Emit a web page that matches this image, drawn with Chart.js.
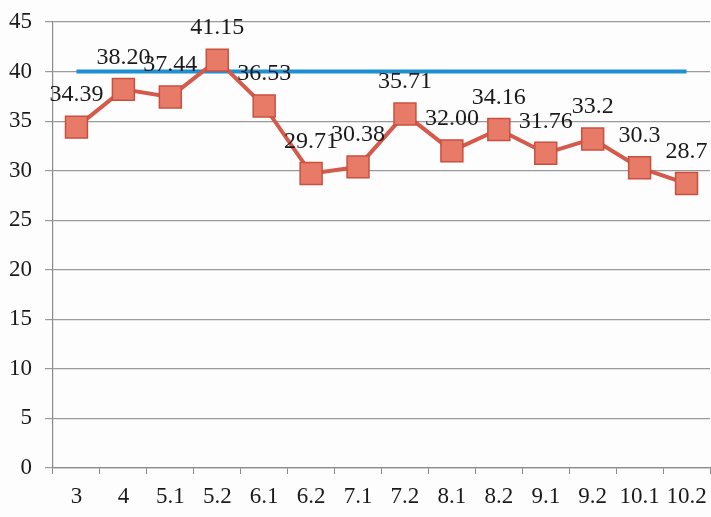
<!DOCTYPE html>
<html>
<head>
<meta charset="utf-8">
<script src="https://cdn.jsdelivr.net/npm/chart.js@4/dist/chart.umd.min.js"></script>
<style>
  html, body { margin: 0; padding: 0; background: #fdfdfd; }
  #wrap { width: 711px; height: 517px; }
</style>
</head>
<body>
<div id="wrap"><canvas id="chart" width="711" height="517"></canvas></div>
<script>
const categories = ['3', '4', '5.1', '5.2', '6.1', '6.2', '7.1', '7.2', '8.1', '8.2', '9.1', '9.2', '10.1', '10.2']
const scores = [34.39, 38.20, 37.44, 41.15, 36.53, 29.71, 30.38, 35.71, 32.00, 34.16, 31.76, 33.2, 30.3, 28.7]
const scoreLabels = ['34.39', '38.20', '37.44', '41.15', '36.53', '29.71', '30.38', '35.71', '32.00', '34.16', '31.76', '33.2', '30.3', '28.7']
const target = [40, 40, 40, 40, 40, 40, 40, 40, 40, 40, 40, 40, 40, 40]
const yTicks = [0, 5, 10, 15, 20, 25, 30, 35, 40, 45]

const serif = '"Liberation Serif", "DejaVu Serif", serif'

// values written above each red marker
const valueLabels = {
    id: 'valueLabels',
    afterDatasetsDraw(chart) {
        const ctx = chart.ctx
        const meta = chart.getDatasetMeta(0)
        ctx.save()
        ctx.font = '24px ' + serif
        ctx.fillStyle = '#1a1a1a'
        ctx.textAlign = 'center'
        ctx.textBaseline = 'middle'
        meta.data.forEach((pt, i) => {
            ctx.fillText(scoreLabels[i], pt.x, pt.y - 32)
        })
        ctx.restore()
    }
}

const ctx = document.getElementById('chart').getContext('2d')

new Chart(ctx, {
    type: 'line',
    data: {
        labels: categories,
        datasets: [{
            label: 'score',
            data: scores,
            borderColor: '#d45a4c',
            borderWidth: 4,
            pointStyle: 'rect',
            pointRadius: 15.5,
            pointBackgroundColor: '#e87a68',
            pointBorderColor: '#c9503f',
            pointBorderWidth: 1.5,
            tension: 0,
            order: 1,
        }, {
            label: 'target',
            data: target,
            borderColor: '#1e90d2',
            borderWidth: 4,
            pointRadius: 0,
            tension: 0,
            order: 2,
        }]
    },
    options: {
        responsive: false,
        animation: false,
        layout: { autoPadding: false, padding: { top: 22, right: 1, left: 0, bottom: 0 } },
        plugins: {
            legend: { display: false },
            tooltip: { enabled: false },
        },
        scales: {
            x: {
                offset: true,
                grid: {
                    display: true,
                    drawOnChartArea: false,
                    offset: true,
                    color: '#8a8a8a',
                    tickLength: 6,
                },
                border: { color: '#8a8a8a', width: 1.2 },
                ticks: {
                    color: '#1a1a1a',
                    font: { family: serif, size: 23 },
                    maxRotation: 0,
                    autoSkip: false,
                    padding: 9,
                },
                afterFit: s => {
                    s.height = 49
                    s.paddingLeft = 0
                    s.paddingRight = 0
                },
            },
            y: {
                min: 0,
                max: 45,
                afterBuildTicks: s => { s.ticks = yTicks.map(v => ({ value: v })) },
                grid: {
                    color: '#9a9a9a',
                    lineWidth: 1.2,
                    tickLength: 8,
                },
                border: { color: '#8a8a8a', width: 1.2 },
                ticks: {
                    color: '#1a1a1a',
                    font: { family: serif, size: 23 },
                    padding: 13,
                },
                afterFit: s => {
                    s.width = 53
                    s.paddingTop = 0
                    s.paddingBottom = 0
                },
            }
        }
    },
    plugins: [valueLabels]
})
</script>
</body>
</html>
